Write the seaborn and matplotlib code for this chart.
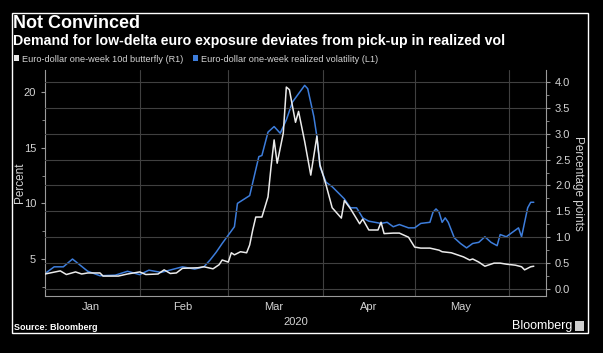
import numpy as np
import pandas as pd
import matplotlib
matplotlib.use('Agg')
from matplotlib import pyplot as plt
from matplotlib.patches import Rectangle, Patch
import seaborn as sns

sns.set_style('dark')
plt.rcParams['font.family'] = ['Liberation Sans', 'DejaVu Sans']

# realized volatility (left axis, percent)
vol_dates = ['2020-01-01', '2020-01-04', '2020-01-07', '2020-01-10', '2020-01-15',
             '2020-01-19', '2020-01-24', '2020-01-28', '2020-02-01', '2020-02-04',
             '2020-02-08', '2020-02-15', '2020-02-19', '2020-02-22', '2020-02-24',
             '2020-02-26', '2020-02-28', '2020-03-03', '2020-03-04', '2020-03-08',
             '2020-03-11', '2020-03-12', '2020-03-14', '2020-03-16', '2020-03-18',
             '2020-03-20', '2020-03-22', '2020-03-26', '2020-03-27', '2020-03-29',
             '2020-03-30', '2020-03-31', '2020-04-02', '2020-04-04', '2020-04-08',
             '2020-04-10', '2020-04-12', '2020-04-14', '2020-04-16', '2020-04-20',
             '2020-04-22', '2020-04-24', '2020-04-26', '2020-04-29', '2020-05-01',
             '2020-05-03', '2020-05-06', '2020-05-07', '2020-05-08', '2020-05-09',
             '2020-05-10', '2020-05-11', '2020-05-12', '2020-05-14', '2020-05-16',
             '2020-05-18', '2020-05-20', '2020-05-22', '2020-05-24', '2020-05-26',
             '2020-05-28', '2020-05-29', '2020-05-31', '2020-06-02', '2020-06-04',
             '2020-06-05', '2020-06-07', '2020-06-08', '2020-06-09']
vol_values = [3.7, 4.3, 4.3, 5.0, 3.9,
              3.5, 3.55, 3.9, 3.6, 4.0,
              3.8, 4.3, 4.1, 4.3, 4.9,
              5.6, 6.4, 7.9, 10.0, 10.7,
              14.2, 14.3, 16.4, 16.9, 16.3,
              17.5, 19.1, 20.6, 20.3, 17.8,
              16.0, 13.3, 11.9, 11.5, 10.4,
              9.6, 9.6, 8.7, 8.4, 8.2,
              8.3, 7.9, 8.1, 7.8, 7.8,
              8.2, 8.3, 9.2, 9.5, 9.2,
              8.3, 8.7, 8.3, 6.9, 6.4,
              6.0, 6.4, 6.5, 7.0, 6.5,
              6.2, 7.2, 7.0, 7.4, 7.8,
              7.0, 9.6, 10.1, 10.1]

# 10d butterfly (right axis, percentage points)
fly_dates = ['2020-01-01', '2020-01-06', '2020-01-08', '2020-01-11', '2020-01-13',
             '2020-01-15', '2020-01-19', '2020-01-20', '2020-01-25', '2020-01-28',
             '2020-02-01', '2020-02-03', '2020-02-07', '2020-02-09', '2020-02-11',
             '2020-02-13', '2020-02-15', '2020-02-20', '2020-02-22', '2020-02-25',
             '2020-02-26', '2020-02-27', '2020-02-28', '2020-03-01', '2020-03-02',
             '2020-03-03', '2020-03-05', '2020-03-07', '2020-03-08', '2020-03-09',
             '2020-03-10', '2020-03-12', '2020-03-14', '2020-03-15', '2020-03-16',
             '2020-03-17', '2020-03-19', '2020-03-20', '2020-03-21', '2020-03-23',
             '2020-03-24', '2020-03-26', '2020-03-28', '2020-03-30', '2020-03-31',
             '2020-04-02', '2020-04-04', '2020-04-07', '2020-04-08', '2020-04-10',
             '2020-04-13', '2020-04-14', '2020-04-16', '2020-04-19', '2020-04-20',
             '2020-04-21', '2020-04-24', '2020-04-26', '2020-04-29', '2020-05-01',
             '2020-05-03', '2020-05-06', '2020-05-09', '2020-05-10', '2020-05-13',
             '2020-05-17', '2020-05-19', '2020-05-20', '2020-05-22', '2020-05-24',
             '2020-05-27', '2020-05-29', '2020-05-31', '2020-06-03', '2020-06-05',
             '2020-06-06', '2020-06-08', '2020-06-09']
fly_values = [0.29, 0.35, 0.28, 0.33, 0.29,
              0.31, 0.31, 0.25, 0.25, 0.29,
              0.33, 0.28, 0.29, 0.37, 0.30,
              0.31, 0.40, 0.41, 0.43, 0.39,
              0.43, 0.47, 0.56, 0.52, 0.70,
              0.66, 0.72, 0.70, 0.85, 1.14,
              1.39, 1.39, 1.78, 2.36, 2.88,
              2.43, 3.01, 3.90, 3.85, 3.22,
              3.43, 2.85, 2.20, 2.95, 2.40,
              2.01, 1.57, 1.37, 1.71, 1.55,
              1.26, 1.35, 1.14, 1.14, 1.29,
              1.07, 1.08, 1.08, 1.00, 0.81,
              0.79, 0.79, 0.75, 0.72, 0.70,
              0.62, 0.56, 0.58, 0.52, 0.44,
              0.50, 0.50, 0.48, 0.46, 0.43,
              0.37, 0.43, 0.44]

left_ticks = [5, 10, 15, 20]
right_ticks = [0.0, 0.5, 1.0, 1.5, 2.0, 2.5, 3.0, 3.5, 4.0]
month_starts = ['2020-01-01', '2020-02-01', '2020-03-01', '2020-04-01', '2020-05-01', '2020-06-01']
month_mids = ['2020-01-16', '2020-02-15', '2020-03-16', '2020-04-16', '2020-05-16']
month_names = ['Jan', 'Feb', 'Mar', 'Apr', 'May']

df_vol = pd.DataFrame({'date': pd.to_datetime(vol_dates), 'value': vol_values})
df_fly = pd.DataFrame({'date': pd.to_datetime(fly_dates), 'value': fly_values})

blue = '#3d7ddb'
white = '#ebebeb'
txt = '#d4d4d4'
grid = '#404040'
spine = '#9a9a9a'

fig = plt.figure(figsize=(6.03, 3.53), dpi=100, facecolor='black')
ax = fig.add_axes([45 / 603, 1 - 296 / 353, 501 / 603, 226 / 353])
ax2 = ax.twinx()
ax.set_facecolor('black')
ax2.set_facecolor('none')
ax.set_zorder(0)
ax2.set_zorder(1)

sns.lineplot(data=df_vol, x='date', y='value', ax=ax, color=blue, lw=1.1)
sns.lineplot(data=df_fly, x='date', y='value', ax=ax2, color=white, lw=1.1)

ax.set_xlim(pd.Timestamp('2020-01-01'), pd.Timestamp('2020-06-13'))
ax.set_ylim(1.68, 21.98)
ax2.set_ylim(-0.135, 4.23)

ax.set_yticks(left_ticks)
ax.set_yticks(np.arange(2.5, 21, 2.5), minor=True)
ax2.set_yticks(right_ticks)
ax2.set_yticks(np.arange(0.25, 4.2, 0.5), minor=True)
ax2.set_yticklabels([f'{t:.1f}' for t in right_ticks])

ax.set_xticks(pd.to_datetime(month_starts))
ax.set_xticklabels([])
ax.set_xticks(pd.to_datetime(month_mids), minor=True)
ax.set_xticklabels(month_names, minor=True)
ax.tick_params(axis='x', which='minor', length=0, colors=txt, labelsize=8, pad=4)
ax.tick_params(axis='x', which='major', length=3, color=spine)
ax.tick_params(axis='y', which='both', colors=txt, labelsize=8, color=spine)
ax.tick_params(axis='y', which='major', length=3)
ax.tick_params(axis='y', which='minor', length=2)
ax2.tick_params(axis='y', which='both', colors=txt, labelsize=8, color=spine)
ax2.tick_params(axis='y', which='major', length=3)
ax2.tick_params(axis='y', which='minor', length=2)

ax.grid(False)
ax2.grid(False)
for t in right_ticks:
    ax2.axhline(t, color=grid, lw=0.8, zorder=0)
for d in month_starts[1:]:
    ax.axvline(pd.Timestamp(d), color=grid, lw=0.8, zorder=0)

ax.set_xlabel('')
ax.set_ylabel('Percent', color=txt, fontsize=8.5, labelpad=-2)
ax2.set_ylabel('Percentage points', color=txt, fontsize=8.5, rotation=270, labelpad=10)

for a in (ax, ax2):
    for s in a.spines.values():
        s.set_visible(False)
ax.spines['left'].set_visible(True)
ax.spines['bottom'].set_visible(True)
ax2.spines['right'].set_visible(True)
for s in ('left', 'bottom'):
    ax.spines[s].set_color(spine)
    ax.spines[s].set_linewidth(0.8)
ax2.spines['right'].set_color(spine)
ax2.spines['right'].set_linewidth(0.8)

fig.text(296 / 603, 1 - 322 / 353, '2020', color=txt, fontsize=8, ha='center', va='center')

# frame and titles
fig.patches.append(Rectangle((12 / 603, 1 - 333 / 353), 576 / 603, 320 / 353,
                             transform=fig.transFigure, fill=False,
                             edgecolor='white', lw=1))
fig.text(13 / 603, 1 - 23 / 353, 'Not Convinced', color='white', fontsize=13,
         fontweight='bold', va='center', ha='left')
fig.text(13 / 603, 1 - 41 / 353,
         'Demand for low-delta euro exposure deviates from pick-up in realized vol',
         color='white', fontsize=10.2, fontweight='bold', va='center', ha='left')

handles = [Patch(facecolor=white, edgecolor='none'), Patch(facecolor=blue, edgecolor='none')]
labels = ['Euro-dollar one-week 10d butterfly (R1)', 'Euro-dollar one-week realized volatility (L1)']
fig.legend(handles, labels, loc='center left', bbox_to_anchor=(14 / 603, 1 - 59 / 353),
           ncol=2, frameon=False, fontsize=6.6, labelcolor=txt, handlelength=0.6,
           handleheight=0.6, handletextpad=0.3, columnspacing=1.0, borderpad=0,
           borderaxespad=0)

fig.text(14 / 603, 1 - 327 / 353, 'Source: Bloomberg', color='white', fontsize=6.5,
         fontweight='bold', va='center', ha='left')
fig.text(572 / 603, 1 - 326 / 353, 'Bloomberg', color='white', fontsize=9,
         va='center', ha='right')
fig.patches.append(Rectangle((575 / 603, 1 - 331 / 353), 9 / 603, 10 / 353,
                             transform=fig.transFigure, facecolor='#cfcfcf',
                             edgecolor='none'))

fig.savefig('out.png', dpi=100, facecolor='black')
